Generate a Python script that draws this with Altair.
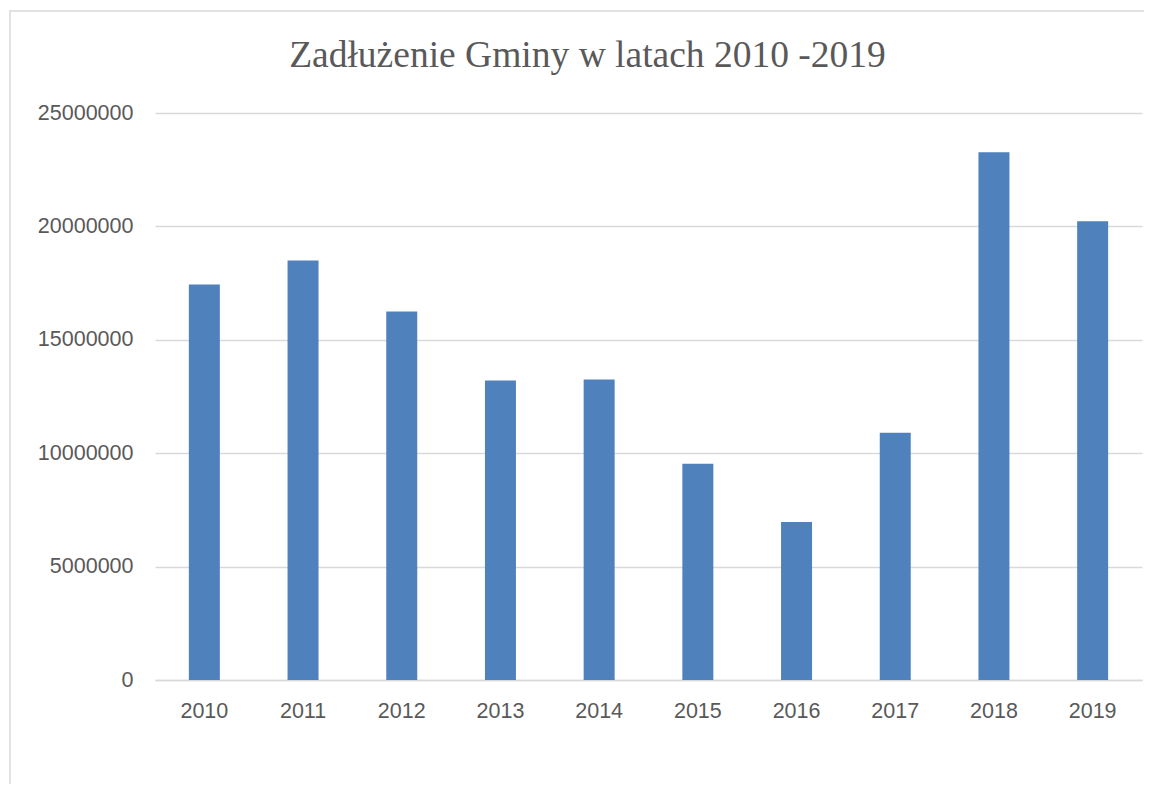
import altair as alt
import pandas as pd

years = ["2010", "2011", "2012", "2013", "2014", "2015", "2016", "2017", "2018", "2019"]
debt = [17440000, 18500000, 16250000, 13210000, 13250000, 9530000, 6970000, 10900000, 23270000, 20230000]
y_ticks = [0, 5000000, 10000000, 15000000, 20000000, 25000000]
title_text = "Zadłużenie Gminy w latach 2010 -2019"

df = pd.DataFrame({"rok": years, "zadluzenie": debt})

GRID = "#d9d9d9"
TXT = "#595959"
FONT = "Liberation Sans"

frame = alt.Chart(pd.DataFrame({"k": [0]})).mark_rect(
    fillOpacity=0, stroke=GRID, strokeWidth=1.5, clip=False
).encode(
    x=alt.value(-145), x2=alt.value(1200), y=alt.value(-102), y2=alt.value(800)
)

bars = alt.Chart(df).mark_bar(color="#4f81bd").encode(
    x=alt.X("rok:N", sort=years,
            scale=alt.Scale(paddingInner=0.686, paddingOuter=0.343),
            axis=alt.Axis(title=None, labelAngle=0, ticks=False, domainColor=GRID,
                          domainWidth=1.5, labelFont=FONT, labelFontSize=21.5,
                          labelColor=TXT, labelPadding=20, grid=False)),
    y=alt.Y("zadluzenie:Q",
            scale=alt.Scale(domain=[0, 25000000], nice=False),
            axis=alt.Axis(title=None, values=y_ticks, format="d", domain=False, ticks=False,
                          gridColor=GRID, gridWidth=1.5, labelFont=FONT, labelFontSize=21.5,
                          labelColor=TXT, labelPadding=22)),
)

chart = alt.layer(frame, bars).properties(
    width=987, height=567,
    autosize=alt.AutoSizeParams(type="none"),
    padding={"left": 147, "top": 105, "right": 2, "bottom": 104},
    title=alt.TitleParams(title_text, font="Liberation Serif", fontSize=37.5, fontWeight="normal",
                          color=TXT, anchor="middle", frame="group", dx=-61,
                          baseline="alphabetic", offset=-94),
).configure_view(stroke=None)

chart.save("out.html", embed_options={"renderer": "svg", "actions": False})
